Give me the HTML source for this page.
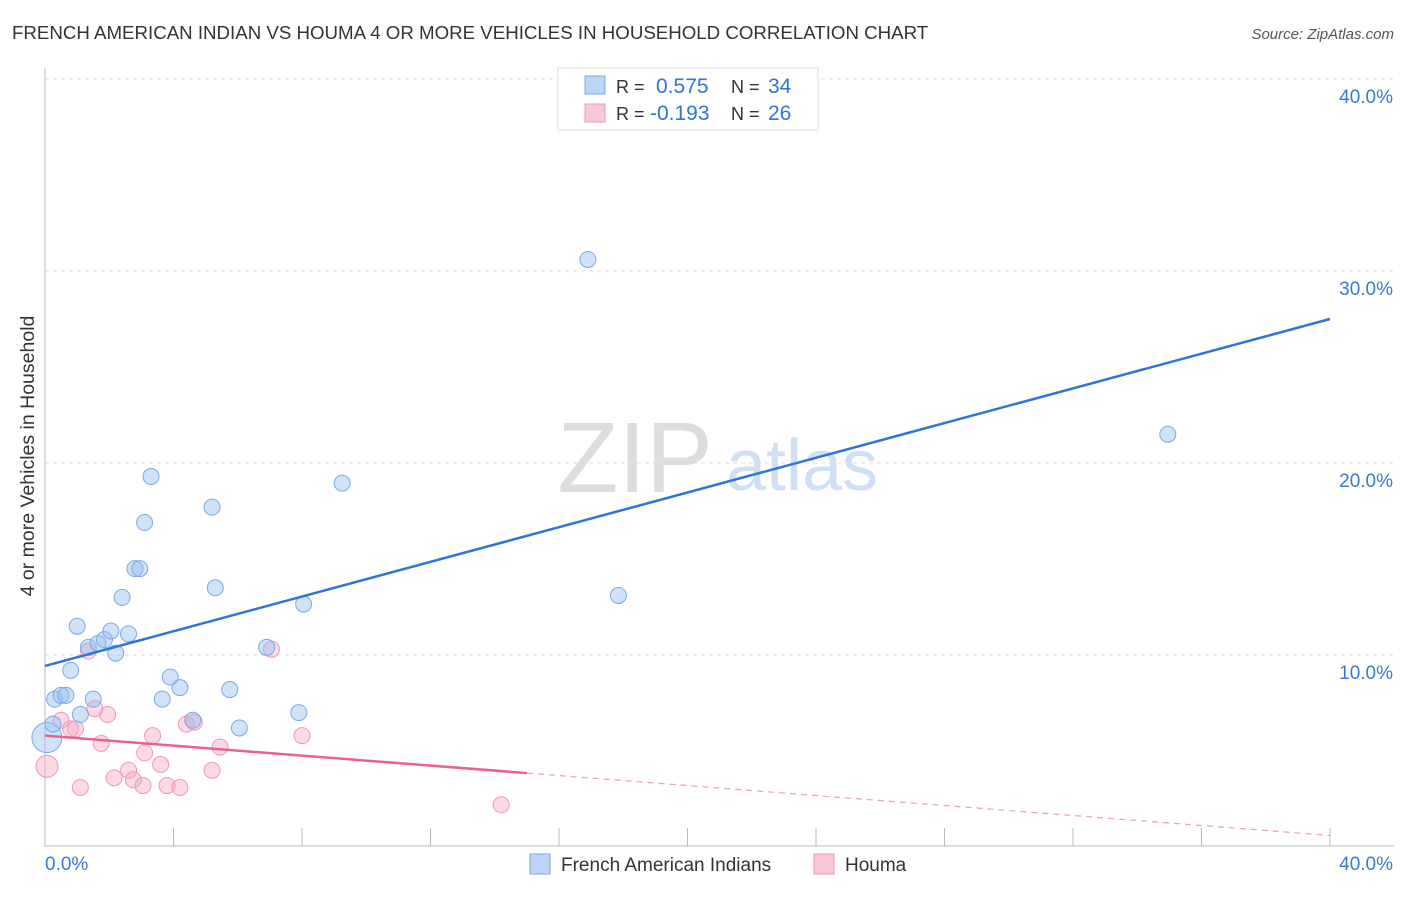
<!DOCTYPE html>
<html><head><meta charset="utf-8"><style>
body{margin:0;background:#fff;font-family:"Liberation Sans",sans-serif;}
svg text{font-family:"Liberation Sans",sans-serif;}
</style></head><body>
<svg id="c" width="1406" height="892"></svg>
<script>
const blueX=[0.06,0.25,0.3,0.5,0.65,0.8,1.0,1.1,1.35,1.5,1.65,1.85,2.05,2.2,2.4,2.6,2.8,2.95,3.1,3.3,3.65,3.9,4.2,4.6,5.2,5.3,5.75,6.05,6.9,7.9,8.05,9.25,16.9,17.85,34.95];
const blueY=[5.7,6.4,7.7,7.9,7.9,9.2,11.5,6.9,10.4,7.7,10.6,10.8,11.25,10.1,13.0,11.1,14.5,14.5,16.9,19.3,7.7,8.85,8.3,6.6,17.7,13.5,8.2,6.2,10.4,7.0,12.65,18.95,30.6,13.1,21.5];
const pinkX=[0.06,0.5,0.8,0.95,1.1,1.35,1.55,1.75,1.95,2.15,2.6,2.75,3.05,3.1,3.35,3.6,3.8,4.2,4.4,4.65,5.2,5.45,7.05,8.0,14.2];
const pinkY=[4.2,6.6,6.15,6.15,3.1,10.2,7.2,5.4,6.9,3.6,4.0,3.5,3.2,4.9,5.8,4.3,3.2,3.1,6.4,6.5,4.0,5.2,10.3,5.8,2.2];
const blueLine=[9.43,27.5];
const pinkLine=[5.8,0.6];
const pinkSolidEnd=15;
const yTicks=[10,20,30,40];
const yTickLabels=["10.0%","20.0%","30.0%","40.0%"];
const xTickVals=[0,4,8,12,16,20,24,28,32,36,40];

const svg=document.getElementById('c');
const NS='http://www.w3.org/2000/svg';
const X=v=>45+v*32.125, Y=v=>847-v*19.2;
function add(tag,attrs,parent){const e=document.createElementNS(NS,tag);for(const k in attrs)e.setAttribute(k,attrs[k]);(parent||svg).appendChild(e);return e;}
function txt(s,attrs){const e=add('text',attrs);e.textContent=s;return e;}

let t=txt("FRENCH AMERICAN INDIAN VS HOUMA 4 OR MORE VEHICLES IN HOUSEHOLD CORRELATION CHART",{x:12,y:39,'font-size':18.7,fill:'#333'});

t=txt("Source: ZipAtlas.com",{x:1394,y:39,'font-size':15,fill:'#555','text-anchor':'end','font-style':'italic'});


yTicks.forEach((v,i)=>{
  let g=add('line',{x1:45,x2:1394,y1:Y(v),y2:Y(v),stroke:'#ddd','stroke-dasharray':'4,4'});
  
  let l=txt(yTickLabels[i],{x:1393,y:Y(v)+24,'font-size':19,fill:'#3a78d8','text-anchor':'end'});
  
});
let ax=add('line',{x1:45,x2:45,y1:68,y2:847,stroke:'#bbb'});

ax=add('line',{x1:45,x2:1394,y1:846,y2:846,stroke:'#bbb'});

xTickVals.forEach(v=>{let k=add('line',{x1:X(v),x2:X(v),y1:828,y2:846,stroke:'#bbb'});
  });
t=txt("0.0%",{x:45,y:870,'font-size':19,fill:'#3a78d8'});
t=txt("40.0%",{x:1393,y:870,'font-size':19,fill:'#3a78d8','text-anchor':'end'});
t=txt("4 or more Vehicles in Household",{x:34,y:456,'font-size':19.5,fill:'#333','text-anchor':'middle',transform:'rotate(-90 34 456)'});


t=txt("ZIP",{x:635,y:492,'font-size':100,fill:'#ddd','text-anchor':'middle','font-family':'Liberation Serif'});

t=txt("atlas",{x:802,y:490,'font-size':72,fill:'#cfe0f5','text-anchor':'middle'});


pinkX.forEach((v,i)=>{let c=add('circle',{cx:X(v),cy:Y(pinkY[i]),r:i==0?11:8,fill:'rgba(248,170,195,0.45)',stroke:'#ee9ab5','stroke-width':1});
  });
blueX.forEach((v,i)=>{let c=add('circle',{cx:X(v),cy:Y(blueY[i]),r:i==0?15:8,fill:'rgba(150,190,240,0.45)',stroke:'#7aa8e6','stroke-width':1});
  });

let bl=add('line',{x1:X(0),y1:Y(blueLine[0]),x2:X(40),y2:Y(blueLine[1]),stroke:'#2f74d8','stroke-width':2.5});

const py=x=>pinkLine[0]+(pinkLine[1]-pinkLine[0])*x/40;
let pl=add('line',{x1:X(0),y1:Y(py(0)),x2:X(pinkSolidEnd),y2:Y(py(pinkSolidEnd)),stroke:'#e8628f','stroke-width':2.5});

let pd=add('line',{x1:X(pinkSolidEnd),y1:Y(py(pinkSolidEnd)),x2:X(40),y2:Y(py(40)),stroke:'#e8a0b8','stroke-width':1.2,'stroke-dasharray':'6,5'});


let lg=add('rect',{x:558,y:68,width:260,height:62,fill:'#fff',stroke:'#ddd'});

let s=add('rect',{x:585,y:76,width:20,height:18,fill:'#bcd4f5',stroke:'#7aa8e6'});
s=add('rect',{x:585,y:104,width:20,height:18,fill:'#f9c8d8',stroke:'#ee9ab5'});
[["R = ",616,93,'#333'],["0.575",656,93,'#2f74d8'],["N = ",731,93,'#333'],["34",768,93,'#2f74d8'],
 ["R = ",616,120,'#333'],["-0.193",650,120,'#2f74d8'],["N = ",731,120,'#333'],["26",768,120,'#2f74d8']].forEach(a=>{
 let e=txt(a[0],{x:a[1],y:a[2],'font-size':a[3]=='#333'?18:21,fill:a[3]});});

s=add('rect',{x:530,y:854,width:20,height:20,fill:'#bcd4f5',stroke:'#7aa8e6'});
t=txt("French American Indians",{x:561,y:871,'font-size':19,fill:'#333'});
s=add('rect',{x:814,y:854,width:20,height:20,fill:'#f9c8d8',stroke:'#ee9ab5'});
t=txt("Houma",{x:845,y:871,'font-size':19,fill:'#333'});
</script>
</body></html>
